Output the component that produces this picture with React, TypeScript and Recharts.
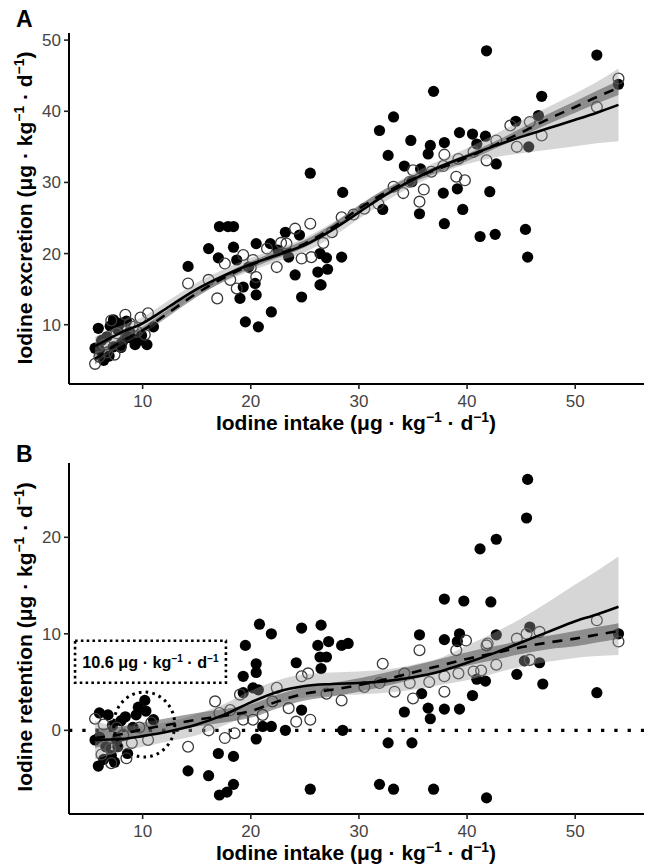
import React from 'react';
import {
  ComposedChart, Scatter, Line, Area, XAxis, YAxis, ReferenceLine, ReferenceDot, ReferenceArea,
} from 'recharts';

const FONT = '"Liberation Sans", Arial, Helvetica, sans-serif';

// ---------- data ----------
const xTicks = [10, 20, 30, 40, 50];
const excretionTicks = [10, 20, 30, 40, 50];
const retentionTicks = [0, 10, 20];

// Panel A: iodine intake vs excretion (filled circles)
const excretionFilled: [number, number][] = [
  [5.6, 6.7], [5.9, 9.5], [6.4, 5.0], [6.2, 7.8], [6.7, 8.3], [7.0, 9.8], [7.3, 10.7], [7.3, 6.9], [7.7, 9.3],
  [7.9, 10.2], [8.1, 7.5], [8.4, 8.1], [8.5, 10.5], [8.8, 9.0], [9.0, 8.1], [9.3, 7.2], [9.7, 7.8], [9.9, 8.5],
  [10.4, 7.2], [11.0, 9.7], [6.0, 6.5], [6.9, 5.6], [8.0, 6.8],
  [14.2, 18.2], [16.1, 20.7], [17.1, 23.8], [17.9, 23.8], [18.4, 23.8], [17.0, 19.4], [18.4, 20.9], [18.7, 19.1],
  [19.0, 13.7], [19.5, 10.4], [20.7, 9.7], [20.5, 14.2], [20.4, 15.8], [19.3, 15.3], [21.9, 11.8], [20.5, 21.4],
  [21.8, 21.4], [19.8, 18.1], [23.2, 23.0], [24.1, 17.0], [24.7, 13.9], [24.5, 22.6], [26.4, 15.6], [26.2, 17.4],
  [26.4, 20.0], [25.5, 31.3], [27.0, 19.4], [27.1, 17.8], [28.4, 19.5], [28.5, 28.6], [22.5, 20.5], [23.5, 19.5],
  [41.8, 48.5], [52.0, 47.9], [36.9, 42.8], [46.9, 42.1], [33.2, 39.2], [31.9, 37.3], [39.3, 37.0], [40.5, 36.8],
  [41.7, 36.5], [44.5, 38.6], [46.6, 39.4], [34.8, 35.9], [36.6, 35.2], [37.9, 35.6], [36.4, 34.0], [32.7, 33.8],
  [40.9, 35.4], [34.2, 32.3], [35.7, 31.9], [42.7, 32.6], [45.7, 35.0], [37.8, 28.5], [42.1, 28.7], [39.1, 29.1],
  [39.6, 26.2], [35.6, 25.6], [54.0, 43.8], [32.2, 26.2], [34.9, 30.1], [37.9, 24.2], [41.2, 22.4], [42.6, 22.7],
  [45.4, 23.4], [45.6, 19.5], [26.5, 15.6],
];

// Panel A: open circles
const excretionOpen: [number, number][] = [
  [5.6, 4.5], [6.0, 5.5], [6.7, 6.1], [7.4, 5.8], [7.1, 10.6], [8.0, 7.0], [8.4, 11.4], [9.1, 9.7], [9.8, 11.0],
  [10.2, 8.6], [10.5, 11.6], [7.6, 8.8], [8.8, 10.2], [6.5, 7.2], [9.5, 9.0],
  [14.2, 15.8], [16.1, 16.3], [16.9, 13.7], [17.6, 18.6], [18.1, 16.3], [18.7, 15.1], [20.2, 19.1], [20.5, 16.7],
  [22.4, 18.1], [23.3, 21.4], [24.1, 23.5], [25.5, 24.2], [24.7, 19.3], [25.6, 19.5], [26.7, 21.5], [19.3, 19.8],
  [21.5, 20.7], [28.4, 25.1], [27.5, 23.0], [22.8, 21.5], [20.0, 18.0],
  [54.0, 44.6], [52.0, 40.6], [45.8, 38.5], [46.9, 36.6], [44.6, 35.0], [42.7, 35.9], [40.6, 34.3], [41.8, 33.1],
  [39.2, 33.3], [37.9, 33.9], [37.8, 32.3], [36.7, 31.5], [35.0, 31.7], [34.7, 30.1], [33.2, 29.4], [39.0, 30.8],
  [39.8, 30.3], [31.8, 27.0], [35.6, 27.3], [34.1, 28.5], [44.0, 38.0], [29.5, 25.5], [30.5, 26.3], [36.0, 29.0],
];

// Panel B: iodine intake vs retention (filled circles)
const retentionFilled: [number, number][] = [
  [5.9, -3.7], [5.6, -1.0], [7.4, -3.3], [7.1, -2.6], [8.6, -2.4], [10.2, 3.1], [9.6, 2.4], [10.3, 2.0], [8.4, 1.4],
  [6.0, 1.8], [6.8, 1.6], [11.0, 1.1], [7.6, -1.0], [9.1, 0.3], [6.0, -0.7], [6.6, -1.7], [7.7, -1.7], [8.0, 1.0],
  [7.2, 0.5], [9.4, 1.6], [6.4, -3.0],
  [19.5, 8.8], [20.5, 6.9], [20.5, 6.0], [19.3, 5.6], [24.2, 7.0], [26.2, 8.8], [26.4, 7.6], [26.5, 6.4], [19.3, 3.9],
  [20.2, 4.4], [20.7, 4.2], [20.5, -0.9], [21.1, 0.4], [21.9, 0.4], [23.2, 0.0], [24.7, 2.1], [17.0, -2.4],
  [18.4, -2.7], [14.2, -4.2], [16.1, -4.7], [17.1, -6.7], [17.8, -6.4], [18.4, -5.6], [25.5, -6.1], [26.5, 10.9],
  [27.2, 9.2], [28.4, 8.8], [27.0, 7.6], [28.5, 0.0], [20.8, 11.0], [21.9, 10.0], [24.7, 10.6],
  [45.6, 26.0], [45.5, 22.0], [42.7, 19.8], [41.2, 18.8], [37.9, 13.6], [39.7, 13.4], [42.2, 13.3], [35.6, 9.9],
  [37.9, 9.4], [39.3, 10.0], [42.7, 9.9], [54.0, 10.0], [32.7, -1.3], [34.9, -1.3], [31.9, -5.6], [33.2, -6.1],
  [36.9, -6.1], [41.8, -7.0], [34.2, 1.9], [36.4, 2.3], [36.6, 1.2], [37.9, 2.2], [39.3, 2.2], [40.5, 3.6],
  [40.9, 5.3], [41.7, 5.1], [44.6, 5.8], [47.0, 4.8], [45.3, 7.2], [46.7, 7.0], [52.0, 3.9], [35.8, 3.8],
  [39.1, 9.2], [45.8, 10.7], [29.0, 9.0],
];

// Panel B: open circles
const retentionOpen: [number, number][] = [
  [5.6, 1.2], [7.1, -3.4], [8.5, -2.9], [10.5, -1.0], [9.0, -1.3], [9.7, 0.3], [7.6, 0.3], [7.0, -1.9], [6.4, 0.6],
  [8.2, -0.5], [10.8, 0.8], [6.2, -2.5],
  [14.2, -1.7], [16.1, 0.0], [16.7, 3.0], [17.6, -0.8], [18.5, -0.3], [19.3, 1.1], [17.1, 1.8], [22.4, 4.4],
  [24.7, 5.6], [25.3, 5.9], [23.5, 2.3], [24.2, 0.9], [25.5, 1.1], [20.2, 1.1], [21.1, 1.6], [19.0, 3.7],
  [18.1, 2.1], [27.0, 3.8], [28.4, 3.1], [22.0, 3.0],
  [32.2, 6.9], [33.3, 4.0], [35.0, 3.3], [34.7, 4.9], [34.2, 5.9], [35.6, 8.3], [37.9, 4.0], [37.9, 5.6],
  [39.2, 5.9], [40.6, 6.1], [41.3, 6.2], [42.7, 6.8], [39.0, 8.3], [41.8, 8.8], [54.0, 9.2], [45.8, 7.3],
  [31.9, 4.9], [52.0, 11.4], [44.6, 9.5], [45.5, 10.0], [46.7, 10.2], [39.9, 9.3], [41.9, 9.0], [30.5, 4.5],
  [36.5, 5.0],
];

// smoothed fits (sampled at smoothX)
const smoothX = [5.6, 8, 10, 12.5, 15, 17.5, 20, 22.5, 25, 27.5, 30, 32.5, 35, 37.5, 40, 42.5, 45, 47.5, 50, 52, 54];

const excSolid = [7.0, 8.9, 10.2, 12.6, 15.0, 16.9, 18.5, 19.8, 21.2, 23.3, 25.8, 28.3, 30.4, 32.2, 33.7, 35.1, 36.4, 37.6, 38.8, 39.8, 40.9];
const excSolidLo = [5.7, 7.9, 9.3, 11.7, 14.1, 16.0, 17.6, 18.9, 20.2, 22.3, 24.9, 27.4, 29.5, 31.3, 32.6, 33.5, 34.1, 34.6, 35.1, 35.5, 35.8];
const excSolidHi = [8.3, 9.9, 11.1, 13.5, 15.9, 17.8, 19.4, 20.7, 22.2, 24.3, 26.7, 29.2, 31.3, 33.1, 34.8, 36.7, 38.7, 40.6, 42.5, 44.1, 46.0];
const excDashed = [5.2, 7.6, 9.2, 11.8, 14.4, 16.6, 18.4, 19.9, 21.4, 23.6, 26.3, 28.6, 30.5, 32.0, 33.5, 35.2, 37.0, 38.9, 40.6, 42.0, 43.3];
const excDashedLo = [4.4, 7.0, 8.7, 11.3, 13.9, 16.1, 17.9, 19.4, 20.9, 23.1, 25.8, 28.1, 30.0, 31.5, 33.0, 34.7, 36.4, 38.2, 39.8, 41.1, 42.3];
const excDashedHi = [6.0, 8.2, 9.7, 12.3, 14.9, 17.1, 18.9, 20.4, 21.9, 24.1, 26.8, 29.1, 31.0, 32.5, 34.0, 35.7, 37.6, 39.6, 41.4, 42.9, 44.3];

const retSolid = [-1.0, -0.9, -0.6, -0.1, 0.6, 1.6, 2.9, 4.0, 4.6, 4.8, 4.9, 5.1, 5.5, 6.1, 7.0, 8.0, 9.1, 10.2, 11.3, 12.0, 12.8];
const retSolidLo = [-3.0, -2.2, -1.7, -1.1, -0.5, 0.5, 1.7, 2.8, 3.4, 3.6, 3.7, 3.9, 4.2, 4.7, 5.2, 5.9, 6.6, 7.1, 7.5, 7.7, 7.8];
const retSolidHi = [1.0, 0.4, 0.5, 0.9, 1.7, 2.7, 4.1, 5.2, 5.8, 6.0, 6.1, 6.3, 6.8, 7.5, 8.8, 10.1, 11.6, 13.3, 15.1, 16.5, 18.0];
const retDashed = [-0.8, -0.4, 0.1, 0.6, 1.1, 1.5, 2.0, 3.0, 3.8, 4.2, 4.7, 5.3, 6.0, 6.7, 7.4, 8.0, 8.6, 9.1, 9.5, 9.9, 10.3];
const retDashedLo = [-1.8, -1.2, -0.6, -0.1, 0.4, 0.8, 1.3, 2.3, 3.1, 3.5, 4.0, 4.6, 5.3, 6.0, 6.7, 7.3, 7.9, 8.4, 8.7, 9.1, 9.5];
const retDashedHi = [0.2, 0.4, 0.8, 1.3, 1.8, 2.2, 2.7, 3.7, 4.5, 4.9, 5.4, 6.0, 6.7, 7.4, 8.1, 8.7, 9.3, 9.8, 10.3, 10.7, 11.1];

// annotation (panel B)
const thresholdLabel = '10.6 μg · kg';
const thresholdCenter = { x: 10.15, y: 0.6 };
const thresholdBox = { x1: 3.75, x2: 17.7, y1: 4.93, y2: 9.28 };

// ---------- helpers ----------
const pts = (arr: [number, number][]) => arr.map(([x, y]) => ({ x, y }));
const curve = (ys: number[]) => smoothX.map((x, i) => ({ x, y: ys[i] }));
const band = (lo: number[], hi: number[]) => smoothX.map((x, i) => ({ x, band: [lo[i], hi[i]] }));

const FilledDot = (p: any) => <circle cx={p.cx} cy={p.cy} r={5.6} fill="#000" />;
const OpenDot = (p: any) => (
  <circle cx={p.cx} cy={p.cy} r={5.4} fill="none" stroke="#3a3a3a" strokeWidth={1.3} />
);

const X_DOMAIN: [number, number] = [3.19, 56.36];

const axisLine = { stroke: '#000', strokeWidth: 2 };
const tickLine = { stroke: '#222', strokeWidth: 1.6 };
const tickStyle = { fill: '#444', fontSize: 17, fontFamily: FONT };

function series(
  filled: [number, number][], open: [number, number][],
  sol: number[], solLo: number[], solHi: number[],
  dash: number[], dashLo: number[], dashHi: number[],
) {
  return [
    <Scatter key="f" data={pts(filled)} dataKey="y" shape={FilledDot} isAnimationActive={false} />,
    <Scatter key="o" data={pts(open)} dataKey="y" shape={OpenDot} isAnimationActive={false} />,
    <Area key="b1" data={band(solLo, solHi)} dataKey="band" type="monotone" stroke="none"
      fill="#999999" fillOpacity={0.4} isAnimationActive={false} zIndex={700} />,
    <Area key="b2" data={band(dashLo, dashHi)} dataKey="band" type="monotone" stroke="none"
      fill="#444444" fillOpacity={0.5} isAnimationActive={false} zIndex={710} />,
    <Line key="l1" data={curve(sol)} dataKey="y" type="monotone" stroke="#000" strokeWidth={2.6}
      dot={false} isAnimationActive={false} zIndex={800} />,
    <Line key="l2" data={curve(dash)} dataKey="y" type="monotone" stroke="#000" strokeWidth={2.6}
      strokeDasharray="10 8" dot={false} isAnimationActive={false} zIndex={810} />,
  ];
}

function UnitText({ prefix, fs }: { prefix: string; fs: number }) {
  const up = fs * 0.38;
  const small = fs * 0.66;
  return (
    <>
      <tspan>{prefix} (μg · kg</tspan>
      <tspan dy={-up} fontSize={small}>−1</tspan>
      <tspan dy={up}> · d</tspan>
      <tspan dy={-up} fontSize={small}>−1</tspan>
      <tspan dy={up}>)</tspan>
    </>
  );
}

const EllipseShape = (p: any) => (
  <ellipse cx={p.cx} cy={p.cy} rx={30.5} ry={32.5} fill="none" stroke="#000"
    strokeWidth={3} strokeDasharray="2.6 4.2" />
);

const BoxLabel = (p: any) => {
  const vb = p.viewBox || {};
  const cx = vb.x + vb.width / 2;
  const cy = vb.y + vb.height / 2;
  const fs = 16.2;
  const up = fs * 0.36;
  const small = fs * 0.62;
  return (
    <text x={cx} y={cy + fs * 0.36} textAnchor="middle" fontFamily={FONT} fontWeight="bold" fontSize={fs} fill="#000">
      <tspan>{thresholdLabel}</tspan>
      <tspan dy={-up} fontSize={small}>−1</tspan>
      <tspan dy={up}> · d</tspan>
      <tspan dy={-up} fontSize={small}>−1</tspan>
    </text>
  );
};

export default function App() {
  return (
    <div style={{ position: 'absolute', left: 0, top: 0, width: 654, height: 866, background: '#fff', fontFamily: FONT }}>
      {/* Panel A */}
      <div style={{ position: 'absolute', left: 0, top: 0 }}>
        <ComposedChart width={654} height={440} margin={{ top: 33, right: 10, bottom: 0, left: 0 }}>
          <XAxis type="number" dataKey="x" domain={X_DOMAIN} ticks={xTicks} allowDataOverflow
            axisLine={axisLine} tickLine={tickLine} tickSize={5} tickMargin={6} tick={tickStyle} height={56} />
          <YAxis type="number" dataKey="y" domain={[1.67, 51.0]} ticks={excretionTicks} allowDataOverflow
            axisLine={axisLine} tickLine={tickLine} tickSize={5} tickMargin={3} tick={tickStyle} width={69} />
          {series(excretionFilled, excretionOpen, excSolid, excSolidLo, excSolidHi, excDashed, excDashedLo, excDashedHi)}
        </ComposedChart>
      </div>

      {/* Panel B */}
      <div style={{ position: 'absolute', left: 0, top: 430 }}>
        <ComposedChart width={654} height={436} margin={{ top: 33, right: 10, bottom: 0, left: 0 }}>
          <XAxis type="number" dataKey="x" domain={X_DOMAIN} ticks={xTicks} allowDataOverflow
            axisLine={axisLine} tickLine={tickLine} tickSize={5} tickMargin={6} tick={tickStyle} height={52} />
          <YAxis type="number" dataKey="y" domain={[-8.67, 27.7]} ticks={retentionTicks} allowDataOverflow
            axisLine={axisLine} tickLine={tickLine} tickSize={5} tickMargin={3} tick={tickStyle} width={69} />
          <ReferenceLine y={0} stroke="#000" strokeWidth={3.2} strokeDasharray="3.3 10" />
          <ReferenceArea x1={thresholdBox.x1} x2={thresholdBox.x2} y1={thresholdBox.y1} y2={thresholdBox.y2}
            fill="#fff" fillOpacity={0} stroke="#000" strokeWidth={2.6} strokeDasharray="2.6 3.2"
            label={<BoxLabel />} ifOverflow="visible" />
          {series(retentionFilled, retentionOpen, retSolid, retSolidLo, retSolidHi, retDashed, retDashedLo, retDashedHi)}
          <ReferenceDot x={thresholdCenter.x} y={thresholdCenter.y} shape={EllipseShape} ifOverflow="visible" zIndex={900} />
        </ComposedChart>
      </div>

      {/* titles */}
      <svg width={654} height={866} style={{ position: 'absolute', left: 0, top: 0, pointerEvents: 'none' }}>
        <text x={16} y={26.5} fontFamily={FONT} fontWeight="bold" fontSize={23} fill="#000">A</text>
        <text x={16} y={461.5} fontFamily={FONT} fontWeight="bold" fontSize={23} fill="#000">B</text>
        <text x={356} y={430} textAnchor="middle" fontFamily={FONT} fontWeight="bold" fontSize={21} fill="#000">
          <UnitText prefix="Iodine intake" fs={21} />
        </text>
        <text x={356} y={860} textAnchor="middle" fontFamily={FONT} fontWeight="bold" fontSize={21} fill="#000">
          <UnitText prefix="Iodine intake" fs={21} />
        </text>
        <text transform="rotate(-90)" x={-208} y={31.5} textAnchor="middle" fontFamily={FONT} fontWeight="bold" fontSize={21} fill="#000">
          <UnitText prefix="Iodine excretion" fs={21} />
        </text>
        <text transform="rotate(-90)" x={-637} y={31.5} textAnchor="middle" fontFamily={FONT} fontWeight="bold" fontSize={21} fill="#000">
          <UnitText prefix="Iodine retention" fs={21} />
        </text>
      </svg>
    </div>
  );
}
